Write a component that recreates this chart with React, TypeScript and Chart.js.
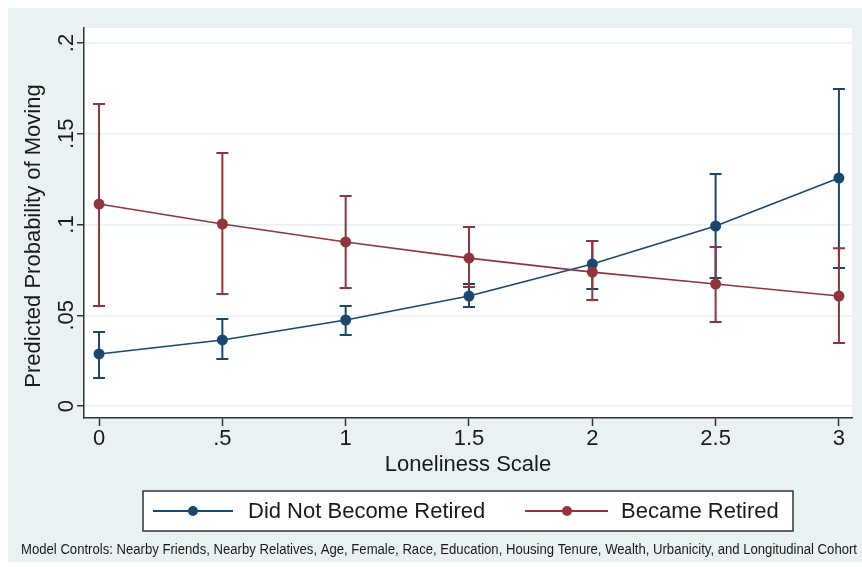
import React, { useEffect, useRef } from "react";
import { Chart, registerables } from "chart.js";

Chart.register(...registerables);

const xValues = [0, 0.5, 1, 1.5, 2, 2.5, 3];
const notRetired = [0.0287, 0.0364, 0.0474, 0.0606, 0.0782, 0.0992, 0.1256];
const notRetiredLo = [0.0154, 0.0259, 0.0391, 0.0545, 0.0645, 0.0705, 0.076];
const notRetiredHi = [0.0408, 0.048, 0.0551, 0.0672, 0.0909, 0.1278, 0.1747];
const retired = [0.1113, 0.1003, 0.0904, 0.0815, 0.0738, 0.0672, 0.0606];
const retiredLo = [0.0551, 0.0617, 0.065, 0.0656, 0.0584, 0.0463, 0.0347];
const retiredHi = [0.1664, 0.1394, 0.1157, 0.0986, 0.0909, 0.0876, 0.087];

const xTicks = [0, 0.5, 1, 1.5, 2, 2.5, 3];
const xTickLabels = ["0", ".5", "1", "1.5", "2", "2.5", "3"];
const yTicks = [0, 0.05, 0.1, 0.15, 0.2];
const yTickLabels = ["0", ".05", ".1", ".15", ".2"];

const seriesLabels = ["Did Not Become Retired", "Became Retired"];
const xTitle = "Loneliness Scale";
const yTitle = "Predicted Probability of Moving";
const footnote =
  "Model Controls: Nearby Friends, Nearby Relatives, Age, Female, Race, Education, Housing Tenure, Wealth, Urbanicity, and Longitudinal Cohort";

const NAVY = "#1a476f";
const MAROON = "#90353b";
const BG = "#eaf1f3";
const GRID = "#e9f0f2";
const AXIS = "#333333";
const TEXT = "#1a1a1a";
const FONT = '"Liberation Sans", Arial, sans-serif';

const W = 854;
const H = 554;

export default function App() {
  const ref = useRef<HTMLCanvasElement | null>(null);

  useEffect(() => {
    const canvas = ref.current;
    if (!canvas) return;

    const body = document.body;
    const prevMargin = body.style.marginRight;
    body.style.marginRight = "0px";

    const errorBars = [
      { lo: notRetiredLo, hi: notRetiredHi, color: NAVY },
      { lo: retiredLo, hi: retiredHi, color: MAROON },
    ];

    const custom = {
      id: "custom",
      beforeDraw(chart: any) {
        const { ctx, chartArea: a } = chart;
        ctx.save();
        ctx.fillStyle = BG;
        ctx.fillRect(0, 0, chart.width, chart.height);
        ctx.fillStyle = "#ffffff";
        ctx.fillRect(a.left, a.top, a.right - a.left, a.bottom - a.top);
        ctx.restore();
      },
      beforeDatasetsDraw(chart: any) {
        const { ctx } = chart;
        const xs = chart.scales.x;
        const ys = chart.scales.y;
        ctx.save();
        ctx.lineWidth = 2;
        errorBars.forEach((eb) => {
          ctx.strokeStyle = eb.color;
          xValues.forEach((xv, i) => {
            const px = xs.getPixelForValue(xv);
            const pLo = ys.getPixelForValue(eb.lo[i]);
            const pHi = ys.getPixelForValue(eb.hi[i]);
            ctx.beginPath();
            ctx.moveTo(px, pLo);
            ctx.lineTo(px, pHi);
            ctx.moveTo(px - 6, pLo);
            ctx.lineTo(px + 6, pLo);
            ctx.moveTo(px - 6, pHi);
            ctx.lineTo(px + 6, pHi);
            ctx.stroke();
          });
        });
        ctx.restore();
      },
      afterDraw(chart: any) {
        const { ctx } = chart;
        const xs = chart.scales.x;
        const ys = chart.scales.y;
        const a = chart.chartArea;
        ctx.save();
        ctx.fillStyle = TEXT;
        ctx.font = `22px ${FONT}`;
        ctx.textAlign = "center";
        ctx.textBaseline = "middle";
        xTicks.forEach((v, i) => {
          ctx.fillText(xTickLabels[i], xs.getPixelForValue(v), 431);
        });
        yTicks.forEach((v, i) => {
          ctx.save();
          ctx.translate(59, ys.getPixelForValue(v));
          ctx.rotate(-Math.PI / 2);
          ctx.fillText(yTickLabels[i], 0, 0);
          ctx.restore();
        });
        ctx.fillText(xTitle, (a.left + a.right) / 2, 457);
        ctx.save();
        ctx.translate(26, 228);
        ctx.rotate(-Math.PI / 2);
        ctx.fillText(yTitle, 0, 0);
        ctx.restore();

        const bx = 135, by = 483, bw = 650, bh = 40;
        ctx.fillStyle = "#ffffff";
        ctx.fillRect(bx, by, bw, bh);
        ctx.strokeStyle = AXIS;
        ctx.lineWidth = 1.5;
        ctx.strokeRect(bx, by, bw, bh);
        const ly = by + bh / 2;
        const items = [
          { x0: 145, x1: 225, dot: 185, tx: 240, color: NAVY, label: chart.data.datasets[0].label },
          { x0: 517, x1: 600, dot: 559, tx: 613, color: MAROON, label: chart.data.datasets[1].label },
        ];
        items.forEach((it) => {
          ctx.strokeStyle = it.color;
          ctx.lineWidth = 2;
          ctx.beginPath();
          ctx.moveTo(it.x0, ly);
          ctx.lineTo(it.x1, ly);
          ctx.stroke();
          ctx.fillStyle = it.color;
          ctx.beginPath();
          ctx.arc(it.dot, ly, 5, 0, Math.PI * 2);
          ctx.fill();
          ctx.fillStyle = TEXT;
          ctx.textAlign = "left";
          ctx.font = `22px ${FONT}`;
          ctx.fillText(it.label, it.tx, ly + 1);
        });

        ctx.font = `14px ${FONT}`;
        ctx.textAlign = "center";
        ctx.fillStyle = TEXT;
        const w = ctx.measureText(footnote).width;
        const target = 836;
        ctx.save();
        ctx.translate(431, 542);
        ctx.scale(target / w, 1);
        ctx.fillText(footnote, 0, 0);
        ctx.restore();
        ctx.restore();
      },
    };

    const chart = new Chart(canvas, {
      type: "line",
      data: {
        datasets: [
          {
            label: seriesLabels[0],
            data: xValues.map((x, i) => ({ x, y: notRetired[i] })),
            borderColor: NAVY,
            backgroundColor: NAVY,
            borderWidth: 1.6,
            pointRadius: 5.5,
            pointHoverRadius: 5.5,
            pointBorderWidth: 0,
            tension: 0,
            order: 1,
          },
          {
            label: seriesLabels[1],
            data: xValues.map((x, i) => ({ x, y: retired[i] })),
            borderColor: MAROON,
            backgroundColor: MAROON,
            borderWidth: 1.6,
            pointRadius: 5.5,
            pointHoverRadius: 5.5,
            pointBorderWidth: 0,
            tension: 0,
            order: 0,
          },
        ],
      },
      options: {
        responsive: false,
        maintainAspectRatio: false,
        animation: false,
        events: [],
        layout: { autoPadding: false, padding: { top: 20, right: 10, left: 0, bottom: 0 } },
        plugins: {
          legend: { display: false },
          tooltip: { enabled: false },
          title: { display: false },
        },
        scales: {
          x: {
            type: "linear",
            min: -0.061,
            max: 3.053,
            afterBuildTicks: (s: any) => {
              s.ticks = xTicks.map((v) => ({ value: v }));
            },
            afterFit: (s: any) => {
              s.height = 144;
            },
            ticks: { display: false },
            grid: {
              drawOnChartArea: false,
              drawTicks: true,
              tickLength: 8,
              tickColor: AXIS,
              tickWidth: 1.5,
            },
            border: { display: true, color: AXIS, width: 1.5 },
          },
          y: {
            type: "linear",
            min: -0.0066,
            max: 0.2083,
            afterBuildTicks: (s: any) => {
              s.ticks = yTicks.map((v) => ({ value: v }));
            },
            afterFit: (s: any) => {
              s.width = 76;
            },
            ticks: { display: false },
            grid: {
              drawOnChartArea: true,
              color: GRID,
              lineWidth: 1.5,
              drawTicks: true,
              tickLength: 7,
              tickColor: AXIS,
              tickWidth: 1.5,
            },
            border: { display: true, color: AXIS, width: 1.5 },
          },
        },
      },
      plugins: [custom],
    });

    return () => {
      chart.destroy();
      body.style.marginRight = prevMargin;
    };
  }, []);

  return (
    <div style={{ width: W + "px", height: H + "px" }}>
      <canvas
        ref={ref}
        width={W}
        height={H}
        style={{ display: "block", width: W + "px", height: H + "px" }}
      />
    </div>
  );
}
